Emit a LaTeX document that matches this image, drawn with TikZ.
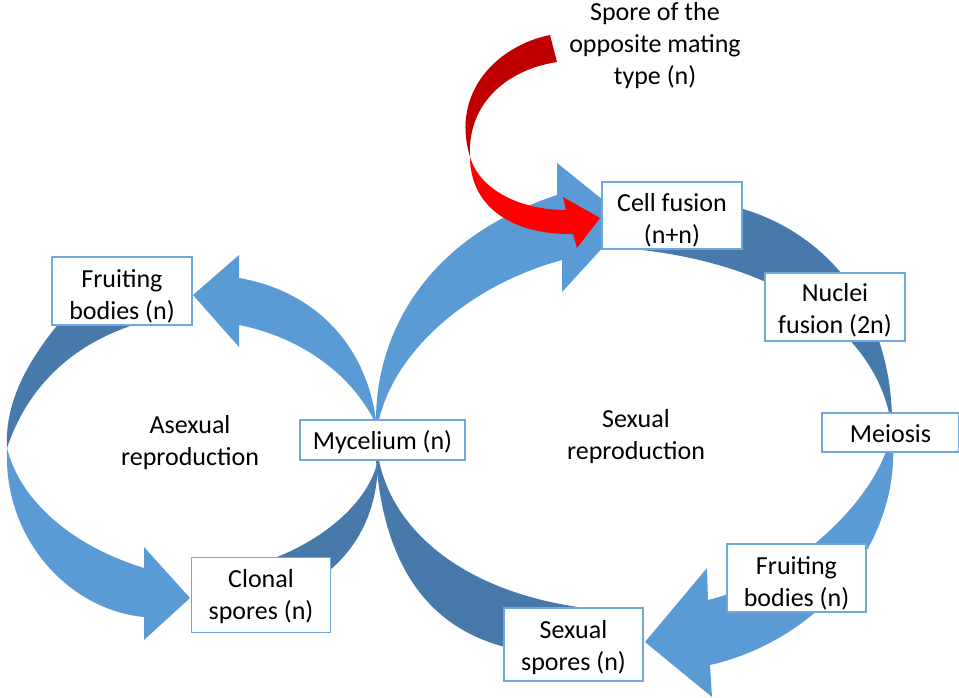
\documentclass[tikz,border=0pt]{standalone}
\usepackage{fontspec}
\setmainfont{Carlito}
\definecolor{ltblue}{RGB}{91,155,213}
\definecolor{dkblue}{RGB}{71,122,170}
\definecolor{boxline}{RGB}{112,168,222}
\definecolor{dkred}{RGB}{192,0,0}
\begin{document}
\begin{tikzpicture}[x=1pt,y=-1pt,
  box/.style={draw=boxline,line width=1.3pt,fill=white,align=center,inner sep=0pt,font=\fontsize{26}{32}\selectfont,text height=52pt,text depth=0pt},
  onebox/.style={box,text height=19pt,text depth=0pt},
  lbl/.style={align=center,font=\fontsize{26}{32}\selectfont}]
  \useasboundingbox (0,0) rectangle (959,697);
  \fill[ltblue] (376,420) .. controls (365,340) and (310,290) .. (239,278) -- (239,255) -- (193,295) -- (239,347) -- (239,325) .. controls (290,335) and (345,365) .. (374,420) -- cycle;
  \fill[dkblue] (60,322) .. controls (20,370) and (5,410) .. (7,448) .. controls (30,380) and (80,340) .. (143,322) -- cycle;
  \fill[ltblue] (7,448) .. controls (3,540) and (70,610) .. (144,617) -- (144,640) -- (190,598) -- (144,547) -- (144,568) .. controls (70,545) and (20,500) .. (7,448) -- cycle;
  \fill[dkblue] (277,557) -- (330,570) .. controls (365,540) and (378,500) .. (378,460) .. controls (368,505) and (320,540) .. (277,557) -- cycle;
  \fill[ltblue] (376,420) .. controls (376,340) and (420,240) .. (557,195) -- (557,163) -- (628,220) -- (562,292) -- (562,260) .. controls (470,285) and (395,350) .. (379,420) -- cycle;
  \fill[dkblue] (690,200) .. controls (800,205) and (895,290) .. (892,430) .. controls (882,340) and (790,262) .. (622,248) -- cycle;
  \fill[ltblue] (892,430) .. controls (905,540) and (820,640) .. (710,665) -- (712,697) -- (645,642) -- (707,568) -- (708,600) .. controls (790,580) and (880,500) .. (892,430) -- cycle;
  \fill[dkblue] (376,460) .. controls (385,580) and (440,630) .. (505,647) -- (605,610) .. controls (480,600) and (395,540) .. (379,460) -- cycle;
  \fill[dkred] (550,35) .. controls (500,45) and (450,90) .. (470,157) .. controls (467,105) and (505,70) .. (557,62) -- cycle;
  \fill[red] (470,157) .. controls (480,190) and (520,210) .. (566,210) -- (563,197) -- (600,218) -- (577,248) -- (573,234) .. controls (510,235) and (470,205) .. (470,157) -- cycle;
  \node[box,minimum width=140pt,minimum height=68pt,text height=57pt] (fbasex) at (122,291) {Fruiting\\bodies (n)};
  \node[onebox,minimum width=165pt,minimum height=40pt] (myc) at (382.5,440) {Mycelium (n)};
  \node[box,minimum width=139pt,minimum height=75pt,text height=49pt] (clonal) at (261,595) {Clonal\\spores (n)};
  \node[box,minimum width=140pt,minimum height=67pt,text height=56pt] (cellfus) at (672,215.5) {Cell fusion\\(n+n)};
  \node[box,minimum width=140pt,minimum height=68pt] (nucfus) at (835,307) {Nuclei\\fusion (2n)};
  \node[onebox,minimum width=137pt,minimum height=39pt] (meiosis) at (890.5,432.5) {Meiosis};
  \node[box,minimum width=139pt,minimum height=68pt,text height=56pt] (fbsex) at (796.5,578) {Fruiting\\bodies (n)};
  \node[box,minimum width=139pt,minimum height=73pt] (sexspores) at (573.5,644.5) {Sexual\\spores (n)};
  \node[lbl] (spore) at (655,46) {Spore of the\\opposite mating\\type (n)};
  \node[lbl] (asex) at (190,443) {Asexual\\reproduction};
  \node[lbl] (sex) at (636,437) {Sexual\\reproduction};
\end{tikzpicture}
\end{document}
